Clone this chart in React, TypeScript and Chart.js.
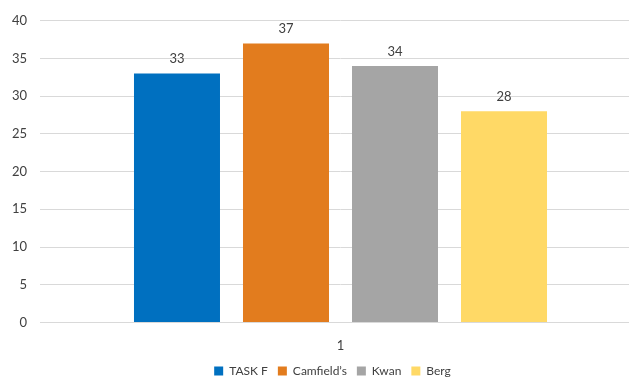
import React, { useEffect, useRef } from "react";
import { Chart, registerables } from "chart.js";

Chart.register(...registerables);

const categories = ["1"];
const seriesNames = ["TASK F", "Camfield’s", "Kwan", "Berg"];
const seriesValues = [[33], [37], [34], [28]];
const seriesColors = ["#0070C0", "#E27C1E", "#A5A5A5", "#FFD966"];
const yTicks = { min: 0, max: 40, step: 5 };

const FONT = "Lato, 'Open Sans', sans-serif";
const TEXT = "#404040";

const valueLabels = {
  id: "valueLabels",
  afterDatasetsDraw(chart: any) {
    const ctx = chart.ctx;
    ctx.save();
    ctx.font = `13px ${FONT}`;
    ctx.fillStyle = TEXT;
    ctx.textAlign = "center";
    ctx.textBaseline = "bottom";
    chart.data.datasets.forEach((ds: any, i: number) => {
      const meta = chart.getDatasetMeta(i);
      meta.data.forEach((bar: any, j: number) => {
        ctx.fillText(String(ds.data[j]), bar.x, bar.y - 8);
      });
    });
    ctx.restore();
  },
};

const shiftLegend = {
  id: "shiftLegend",
  afterLayout(chart: any) {
    const lg = chart.legend;
    if (lg) {
      lg.left += 12;
      lg.right += 12;
    }
  },
};

export default function App() {
  const ref = useRef<HTMLCanvasElement>(null);
  useEffect(() => {
    if (!ref.current) return;
    const chart = new Chart(ref.current, {
      type: "bar",
      data: {
        labels: categories,
        datasets: seriesNames.map((name, i) => ({
          label: name,
          data: seriesValues[i],
          backgroundColor: seriesColors[i],
          borderWidth: 0,
          categoryPercentage: 0.7255,
          barPercentage: 0.789,
        })),
      },
      options: {
        animation: false,
        responsive: false,
        maintainAspectRatio: false,
        layout: { padding: { top: 13, left: 0, right: 0, bottom: -10 } },
        plugins: {
          legend: {
            position: "bottom",
            labels: {
              boxWidth: 9,
              boxHeight: 9,
              font: { size: 12, family: FONT },
              color: TEXT,
              padding: 10,
            },
          },
          tooltip: { enabled: false },
        },
        scales: {
          x: {
            grid: { display: false, drawTicks: false },
            border: { display: true, color: "#D9D9D9", width: 1 },
            ticks: { font: { size: 13, family: FONT }, color: TEXT, padding: 16 },
            afterFit: (scale: any) => {
              scale.height = scale.height - 15;
            },
          },
          y: {
            min: yTicks.min,
            max: yTicks.max,
            ticks: {
              stepSize: yTicks.step,
              font: { size: 13, family: FONT },
              color: TEXT,
              padding: 13,
            },
            grid: { color: "#D9D9D9", drawTicks: false },
            border: { display: false },
            afterFit: (scale: any) => {
              scale.width = 40;
            },
          },
        },
      },
      plugins: [valueLabels, shiftLegend],
    });
    return () => chart.destroy();
  }, []);
  return (
    <div style={{ position: "fixed", left: 0, top: 0, width: 629, height: 377, overflow: "hidden", background: "#fff" }}>
      <canvas ref={ref} width={641} height={377} />
    </div>
  );
}
